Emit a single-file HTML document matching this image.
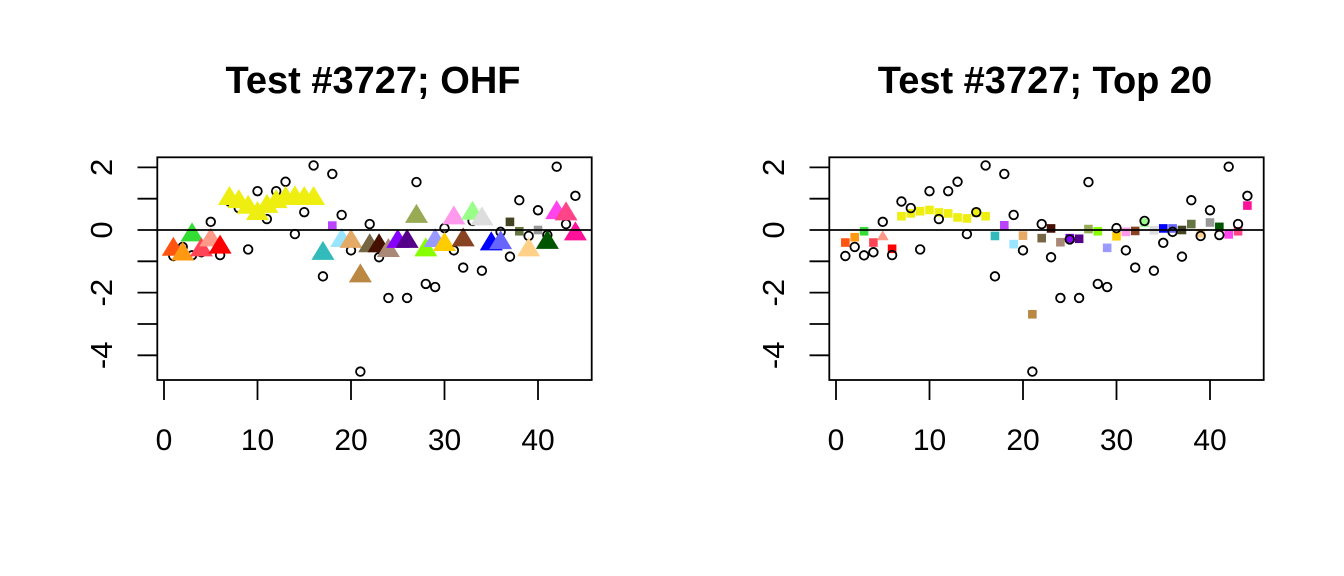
<!DOCTYPE html>
<html><head><meta charset="utf-8"><style>html,body{margin:0;padding:0;background:#fff}svg{display:block}</style></head>
<body>
<svg id="s" width="1344" height="576" xmlns="http://www.w3.org/2000/svg" font-family="Liberation Sans, Arial, sans-serif"></svg>
<script>
var circ=[-0.83,-0.54,-0.81,-0.71,0.26,-0.80,0.91,0.70,-0.62,1.24,0.35,1.24,1.54,-0.13,0.57,2.06,-1.48,1.79,0.48,-0.65,-4.52,0.19,-0.87,-2.17,-0.30,-2.17,1.53,-1.72,-1.82,0.06,-0.65,-1.20,0.29,-1.30,-0.41,-0.06,-0.85,0.95,-0.19,0.63,-0.16,2.02,0.19,1.09];
var cols=["#FF5511","#FF9911","#33DD33","#FF4455","#FF9988","#FF0000","#EEEE11","#EEEE11","#EEEE11","#EEEE11","#EEEE11","#EEEE11","#EEEE11","#EEEE11","#EEEE11","#EEEE11","#33BBBB","#BB44FF","#99E5FF","#E5AA66","#BB8844","#776644","#441100","#AA8877","#8800FF","#550088","#99AA55","#88FF00","#9999FF","#FFCC00","#FF99EE","#884422","#99FF88","#DDDDDD","#0000FF","#6666FF","#444422","#667744","#FFD088","#999999","#005500","#FF44EE","#FF4488","#FF1199"];
var L=[-0.62,-0.77,-0.16,-0.64,-0.32,-0.55,1.0,0.9,0.72,0.52,0.75,0.9,1.0,1.02,1.0,1.0,-0.75,0.14,-0.34,-0.37,-1.47,-0.51,-0.51,-0.66,-0.37,-0.37,0.43,-0.64,-0.34,-0.47,0.38,-0.32,0.53,0.35,-0.45,-0.41,0.26,-0.04,-0.64,0.0,-0.40,0.55,0.51,-0.13];
var Lsq={18:1,37:1,38:1,40:1};
var R=[-0.40,-0.23,-0.04,-0.40,-0.22,-0.60,0.44,0.53,0.60,0.64,0.56,0.53,0.40,0.37,0.55,0.44,-0.19,0.15,-0.45,-0.18,-2.69,-0.26,0.05,-0.39,-0.26,-0.28,0.03,-0.04,-0.57,-0.20,-0.06,-0.03,0.23,-0.01,0.05,0.05,0.0,0.19,-0.10,0.24,0.10,-0.14,-0.04,0.78];
var h='';
function panel(ox,title,vals,isL){
  var X=function(i){return ox+164+9.35*i},Y=function(v){return 230-31.33*v};
  h+='<text x="'+(ox+373)+'" y="93" font-size="38" font-weight="bold" text-anchor="middle">'+title+'</text>';
  var ch='';
  for(var i=1;i<=44;i++){
    ch+='<circle cx="'+X(i)+'" cy="'+Y(circ[i-1])+'" r="4.3" fill="none" stroke="#000" stroke-width="1.8"/>';
  }
  var mh='';
  for(var i=1;i<=44;i++){
    var x=X(i),y=Y(vals[i-1]),c=cols[i-1];
    var tri = isL ? !Lsq[i] : (i==5);
    if(tri){
      var w=isL?11.5:6,hh=isL?19:10;
      mh+='<polygon points="'+(x-w)+','+(y+hh/3)+' '+(x+w)+','+(y+hh/3)+' '+x+','+(y-2*hh/3)+'" fill="'+c+'"/>';
    }else{
      mh+='<rect x="'+(x-4.3)+'" y="'+(y-4.3)+'" width="8.6" height="8.6" fill="'+c+'"/>';
    }
  }
  h+= isL ? (ch+mh) : (mh+ch);
  h+='<line x1="'+(ox+157.3)+'" y1="230" x2="'+(ox+591.7)+'" y2="230" stroke="#000" stroke-width="1.8"/>';
  h+='<rect x="'+(ox+157.3)+'" y="157.3" width="434.4" height="222.7" fill="none" stroke="#000" stroke-width="1.8"/>';
  for(var k=-4;k<=2;k++){var y=Y(k);h+='<line x1="'+(ox+137.5)+'" y1="'+y+'" x2="'+(ox+157.3)+'" y2="'+y+'" stroke="#000" stroke-width="1.8"/>';}
  [2,0,-2,-4].forEach(function(k){var y=Y(k);h+='<text transform="translate('+(ox+112)+','+y+') rotate(-90)" font-size="31" text-anchor="middle">'+k+'</text>';});
  [0,10,20,30,40].forEach(function(k){var x=X(k);h+='<line x1="'+x+'" y1="380" x2="'+x+'" y2="400" stroke="#000" stroke-width="1.8"/><text x="'+x+'" y="450" font-size="30" text-anchor="middle">'+k+'</text>';});
}
panel(0,"Test #3727; OHF",L,true);
panel(672,"Test #3727; Top 20",R,false);
document.getElementById('s').innerHTML=h;
</script>
</body></html>
